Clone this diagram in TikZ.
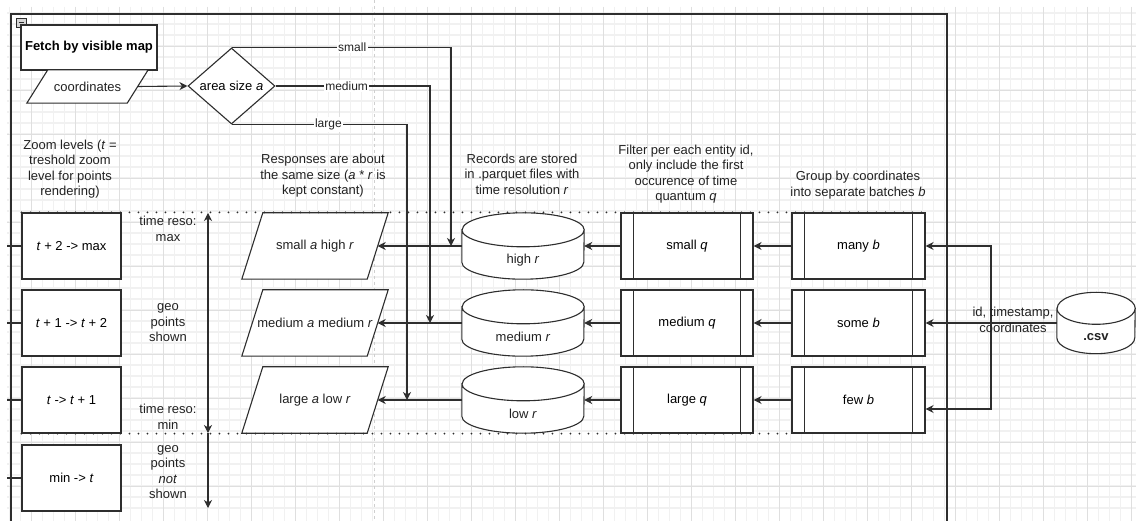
\documentclass[tikz,border=0pt]{standalone}
\usepackage{fontspec}
\setmainfont{Liberation Sans}
\usetikzlibrary{calc,arrows.meta,shapes.geometric}
\definecolor{ink}{HTML}{222222}
\definecolor{edge}{HTML}{2E2E2E}
\definecolor{gridmin}{HTML}{F1F1F1}
\definecolor{gridmaj}{HTML}{DFDFDF}
\definecolor{pagebrk}{HTML}{CFCFCF}
\definecolor{iconbg}{HTML}{D6D6D6}
\tikzset{
  base/.style={draw=edge, line width=1.1pt},
  arr/.style={base, -{Stealth[length=8pt,width=8pt,inset=2.5pt]}},
  dbl/.style={base, {Stealth[length=8pt,width=8pt,inset=2.5pt]}-{Stealth[length=8pt,width=8pt,inset=2.5pt]}},
  box/.style={base, fill=white, rectangle, inner sep=0pt, minimum height=66pt},
  zoombox/.style={box, minimum width=99pt},
  procbox/.style={box, minimum width=132pt},
  drum/.style={rectangle, inner sep=0pt, minimum height=66pt, minimum width=122pt},
  plate/.style={rectangle, inner sep=0pt, minimum height=66pt, minimum width=125pt},
  lab/.style={text=ink, align=center},
  elab/.style={text=ink, font=\fontsize{12}{14}\selectfont, fill=white, inner sep=1.5pt},
  sep/.style={draw=edge, line width=2pt, line cap=round, dash pattern=on 0pt off 9pt},
}
% cylinder drawn round an invisible node: name, x radius, y radius, text
\newcommand{\drum}[4]{%
  \draw[base, fill=white] ($(#1.north west)+(0,#3)$) -- ($(#1.south west)+(0,-#3)$)
    arc[start angle=180, end angle=0, x radius=#2, y radius=#3]
    -- ($(#1.north east)+(0,#3)$)
    arc[start angle=0, end angle=-180, x radius=#2, y radius=#3] -- cycle
    arc[start angle=180, end angle=0, x radius=#2, y radius=#3];
  \node[lab] (#1-t) at ([yshift=-14pt]#1.center) {#4};
}
% parallelogram round an invisible node: name, slant, text
\newcommand{\slab}[3]{%
  \draw[base, fill=white] ($(#1.north west)+(#2/2,0)$) -- ($(#1.north east)+(#2/2,0)$)
    -- ($(#1.south east)-(#2/2,0)$) -- ($(#1.south west)-(#2/2,0)$) -- cycle;
  \node[lab] (#1-t) at (#1.center) {#3};
}
\begin{document}
\begin{tikzpicture}[x=1pt, y=-1pt, every node/.style={font=\fontsize{13}{15.5}\selectfont}]
  \useasboundingbox (0,0) rectangle (1136,521);
  \fill[white] (0,0) rectangle (1136,521);

  % background grid
  \foreach \k in {0,...,102} \draw[gridmin, line width=1.2pt] ({9.7+11*\k},7) -- ({9.7+11*\k},521);
  \foreach \k in {1,...,46} \draw[gridmin, line width=1.2pt] (7,{2+11*\k}) -- (1136,{2+11*\k});
  \foreach \k in {0,...,25} \draw[gridmaj, line width=0.8pt] ({31.7+44*\k},7) -- ({31.7+44*\k},521);
  \foreach \k in {1,...,11} \draw[gridmaj, line width=0.8pt] (7,{2+44*\k}) -- (1136,{2+44*\k});
  \draw[pagebrk, line width=1pt, dash pattern=on 3pt off 3pt] (374,0) -- (374,521);

  % container
  \draw[base] (11,521) -- (11,14) -- (947,14) -- (947,521);
  \draw[draw=edge, line width=0.8pt, fill=iconbg] (16,18) rectangle (26,27);
  \draw[draw=edge, line width=1pt] (18.5,22.5) -- (23.5,22.5);

  \node[box, minimum width=136pt, minimum height=45pt, font=\fontsize{13}{15.5}\selectfont\bfseries] (fetch) at (89,47.5) {Fetch by visible map};
  \node[plate, minimum width=100pt, minimum height=33pt] (coord) at (87.5,86.5) {};
  \slab{coord}{21}{coordinates}
  \node[base, fill=white, diamond, aspect=1.14, minimum width=87pt, minimum height=76pt, inner sep=0pt] (area) at (231.5,86) {area size \textit{a}};

  \node[lab] (zoomtxt) at (70,169) {Zoom levels (\textit{t} =\\treshold zoom\\level for points\\rendering)};
  \node[lab] (resptxt) at (323,176) {Responses are about\\the same size (\textit{a} * \textit{r} is\\kept constant)};
  \node[lab] (rectxt) at (522,174) {Records are stored\\in .parquet files with\\time resolution \textit{r}};
  \node[lab] (filttxt) at (686,174) {Filter per each entity id,\\only include the first\\occurence of time\\quantum \textit{q}};
  \node[lab] (grptxt) at (858,185) {Group by coordinates\\into separate batches \textit{b}};

  \node[zoombox] (z1) at (71.5,246) {\textit{t} + 2 -> max};
  \node[zoombox] (z2) at (71.5,323) {\textit{t} + 1 -> \textit{t} + 2};
  \node[zoombox] (z3) at (71.5,400) {\textit{t} -> \textit{t} + 1};
  \node[zoombox] (z4) at (71.5,478) {min -> \textit{t}};
  \foreach \i/\y in {1/246,2/323,3/400,4/478} {
    \coordinate (tk\i) at (7,\y);
    \draw[base] (tk\i) -- (z\i.west);
  }

  \node[lab] (tmax) at (168,229) {time reso:\\max};
  \node[lab] (geo1) at (168,323) {geo\\points\\shown};
  \node[lab] (tmin) at (168,417) {time reso:\\min};
  \node[lab] (geo0) at (168,472) {geo\\points\\\textit{not}\\shown};
  \coordinate (va) at (208,213);
  \coordinate (vb) at (208,433);
  \coordinate (vc) at (208,508);
  \draw[dbl] (va) -- (vb);
  \draw[arr] (vb) -- (vc);

  \node[plate] (rs) at (315,246) {};
  \node[plate] (rm) at (315,323) {};
  \node[plate] (rl) at (315,400) {};
  \slab{rs}{21}{small \textit{a} high \textit{r}}
  \slab{rm}{21}{medium \textit{a} medium \textit{r}}
  \slab{rl}{21}{large \textit{a} low \textit{r}}

  \node[drum] (hi) at (523,246) {};
  \node[drum] (med) at (523,323) {};
  \node[drum] (lo) at (523,400) {};
  \drum{hi}{61}{17}{high \textit{r}}
  \drum{med}{61}{17}{medium \textit{r}}
  \drum{lo}{61}{17}{low \textit{r}}

  \node[procbox] (qs) at (687,246) {small \textit{q}};
  \node[procbox] (qm) at (687,323) {medium \textit{q}};
  \node[procbox] (ql) at (687,400) {large \textit{q}};
  \node[procbox, minimum width=133pt] (bs) at (858.5,246) {many \textit{b}};
  \node[procbox, minimum width=133pt] (bm) at (858.5,323) {some \textit{b}};
  \node[procbox, minimum width=133pt] (bl) at (858.5,400) {few \textit{b}};
  \foreach \n in {qs,qm,ql,bs,bm,bl}
    \draw[base] ([xshift=13pt]\n.north west) -- ([xshift=13pt]\n.south west)
                ([xshift=-13pt]\n.north east) -- ([xshift=-13pt]\n.south east);

  \node[drum, minimum width=78pt, minimum height=61pt] (csv) at (1096,323) {};
  \drum{csv}{39}{16}{\textbf{.csv}}

  % flow
  \draw[arr] (coord.east) -- (area.west);
  \coordinate (s1) at (451,246);
  \coordinate (m1) at (430,323);
  \coordinate (l1) at (407,400);
  \draw[arr] (area.north) -| (s1) node[elab, pos=0.275] {small};
  \draw[arr] (area.east) -| (m1) node[elab, pos=0.23] {medium};
  \draw[arr] (area.south) -| (l1) node[elab, pos=0.276] {large};
  \foreach \b/\q/\d/\r in {bs/qs/hi/rs, bm/qm/med/rm, bl/ql/lo/rl} {
    \draw[arr] (\b.west) -- (\q.east);
    \draw[arr] (\q.west) -- (\d.east);
    \draw[arr] (\d.west) -- (\r.east);
  }
  \coordinate (jn) at (991,323);
  \draw[base] (csv.west) -- (jn);
  \draw[arr] (jn) |- (bs.east);
  \draw[arr] (jn) -- (bm.east);
  \draw[arr] (jn) |- ([yshift=-9pt]bl.east);
  \node[lab] (csvlab) at (1013,320) {id, timestamp,\\coordinates};

  \draw[sep] (z1.north west) -- (bs.north east);
  \draw[sep] (z3.south west) -- (bl.south west);
\end{tikzpicture}
\end{document}
